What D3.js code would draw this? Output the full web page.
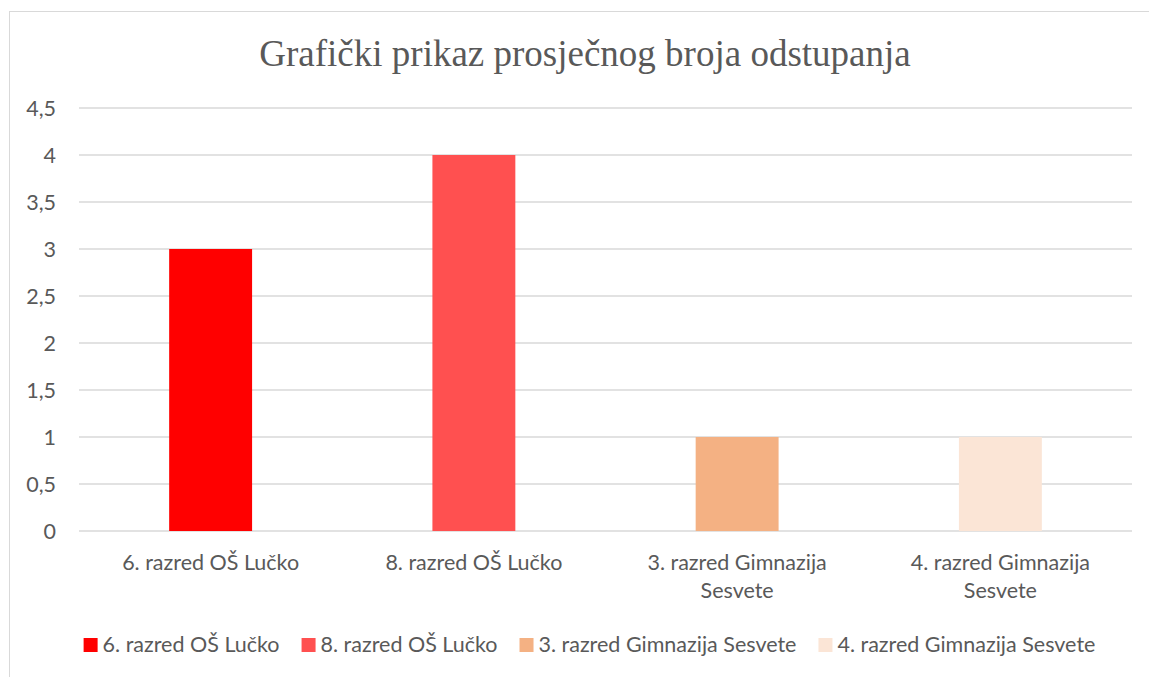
<!DOCTYPE html>
<html>
<head>
<meta charset="utf-8">
<script src="https://cdn.jsdelivr.net/npm/d3@7"></script>
<style>
  body { margin: 0; background: #fff; }
  svg { display: block; }
</style>
</head>
<body>
<svg id="chart" width="1149" height="677"></svg>
<script>
// data
const categories = ["6. razred OŠ Lučko", "8. razred OŠ Lučko", "3. razred Gimnazija Sesvete", "4. razred Gimnazija Sesvete"];
const values = [3, 4, 1, 1];
const colors = ["#ff0000", "#ff5050", "#f4b183", "#fbe5d6"];
const yTicks = [0, 0.5, 1, 1.5, 2, 2.5, 3, 3.5, 4, 4.5];
const title = "Grafički prikaz prosječnog broja odstupanja";

const svg = d3.select("#chart");
const font = "Lato, 'Open Sans', sans-serif";
const textColor = "#595959";
const fs = 21.5;

// chart frame
svg.append("rect")
    .attr("x", 9.5).attr("y", 11.5)
    .attr("width", 1160).attr("height", 700)
    .attr("fill", "white")
    .attr("stroke", "#d9d9d9");

const plot = { left: 79, right: 1132, top: 108, bottom: 531 };

const x = d3.scaleBand()
    .domain(categories)
    .range([plot.left, plot.right])
    .paddingInner(0.685)
    .paddingOuter(0.3425);

const y = d3.scaleLinear()
    .domain([0, 4.5])
    .range([plot.bottom, plot.top]);

// title
svg.append("text")
    .attr("x", 585).attr("y", 66)
    .attr("text-anchor", "middle")
    .attr("font-family", "'Liberation Serif', serif")
    .attr("font-size", 37)
    .attr("fill", textColor)
    .text(title);

// gridlines
svg.append("g")
    .selectAll("line")
    .data(yTicks)
    .join("line")
    .attr("x1", plot.left).attr("x2", plot.right)
    .attr("y1", d => y(d)).attr("y2", d => y(d))
    .attr("stroke", "#d9d9d9")
    .attr("stroke-width", 1.5);

// y labels
const fmt = d => String(d).replace(".", ",");
svg.append("g")
    .selectAll("text")
    .data(yTicks)
    .join("text")
    .attr("x", 56)
    .attr("y", d => y(d))
    .attr("dy", "0.35em")
    .attr("text-anchor", "end")
    .attr("font-family", font)
    .attr("font-size", fs)
    .attr("fill", textColor)
    .text(fmt);

// bars
svg.append("g")
    .selectAll("rect")
    .data(values)
    .join("rect")
    .attr("x", (d, i) => x(categories[i]))
    .attr("width", x.bandwidth())
    .attr("y", d => y(d))
    .attr("height", d => y(0) - y(d))
    .attr("fill", (d, i) => colors[i]);

// x labels (wrap like excel)
const xLabelLines = [["6. razred OŠ Lučko"], ["8. razred OŠ Lučko"], ["3. razred Gimnazija", "Sesvete"], ["4. razred Gimnazija", "Sesvete"]];
const xl = svg.append("g")
    .selectAll("text")
    .data(categories)
    .join("text")
    .attr("x", d => x(d) + x.bandwidth() / 2)
    .attr("y", 570)
    .attr("text-anchor", "middle")
    .attr("font-family", font)
    .attr("font-size", fs)
    .attr("fill", textColor);
xl.each(function (d, i) {
    d3.select(this).selectAll("tspan")
        .data(xLabelLines[i])
        .join("tspan")
        .attr("x", x(d) + x.bandwidth() / 2)
        .attr("dy", (t, j) => j === 0 ? 0 : 28)
        .text(t => t);
});

// legend
const legend = svg.append("g");
const items = legend.selectAll("g")
    .data(categories)
    .join("g");
items.append("rect")
    .attr("width", 14).attr("height", 14)
    .attr("y", 638)
    .attr("fill", (d, i) => colors[i]);
items.append("text")
    .attr("x", 19)
    .attr("y", 652)
    .attr("font-family", font)
    .attr("font-size", fs)
    .attr("fill", textColor)
    .text(d => d);
let widths = [];
items.each(function () { widths.push(d3.select(this).select("text").node().getComputedTextLength() + 19); });
const gap = 22;
const total = d3.sum(widths) + gap * (widths.length - 1);
let cx = 589.5 - total / 2;
items.each(function (d, i) {
    d3.select(this).attr("transform", `translate(${cx},0)`);
    cx += widths[i] + gap;
});
</script>
</body>
</html>
